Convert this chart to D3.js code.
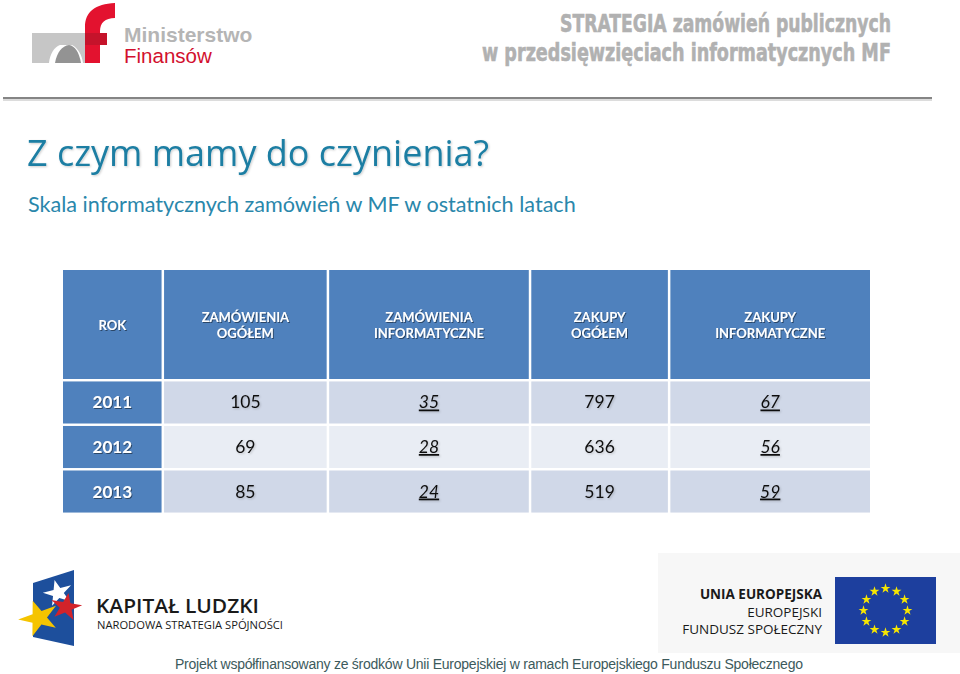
<!DOCTYPE html>
<html>
<head>
<meta charset="utf-8">
<script src="https://cdn.jsdelivr.net/npm/d3@7/dist/d3.min.js"></script>
<style>
  html, body { margin: 0; padding: 0; background: #fff; }
  svg { display: block; }
</style>
</head>
<body>
<div id="slide"></div>
<script>
(function () {
  'use strict';

  // table data
  var years = ['2011', '2012', '2013'];
  var headers = [
    ['ROK'],
    ['ZAMÓWIENIA', 'OGÓŁEM'],
    ['ZAMÓWIENIA', 'INFORMATYCZNE'],
    ['ZAKUPY', 'OGÓŁEM'],
    ['ZAKUPY', 'INFORMATYCZNE']
  ];
  var zamowieniaOgolem = [105, 69, 85];
  var zamowieniaInformatyczne = [35, 28, 24];
  var zakupyOgolem = [797, 636, 519];
  var zakupyInformatyczne = [67, 56, 59];

  var series = [
    {values: zamowieniaOgolem, italic: false},
    {values: zamowieniaInformatyczne, italic: true},
    {values: zakupyOgolem, italic: false},
    {values: zakupyInformatyczne, italic: true}
  ];

  var width = 960,
    height = 674,
    colWidths = [101, 165, 202, 139, 202],
    gap = 2.5;

  var svg = d3.select('#slide')
    .append('svg')
    .attr('width', width)
    .attr('height', height);

  var defs = svg.append('defs');
  var shadow = defs.append('filter').attr('id', 'shadow')
    .attr('x', '-10%').attr('y', '-20%').attr('width', '130%').attr('height', '150%');
  shadow.append('feDropShadow')
    .attr('dx', 1).attr('dy', 1).attr('stdDeviation', 0.6)
    .attr('flood-color', '#000').attr('flood-opacity', 0.45);
  var soft = defs.append('filter').attr('id', 'soft')
    .attr('x', '-10%').attr('y', '-20%').attr('width', '130%').attr('height', '150%');
  soft.append('feDropShadow')
    .attr('dx', 1).attr('dy', 1).attr('stdDeviation', 0.8)
    .attr('flood-color', '#000').attr('flood-opacity', 0.2);

  svg.append('rect').attr('width', width).attr('height', height).attr('fill', '#fff');

  // ---- header: MF logo ----
  var logo = svg.append('g');
  logo.append('path')
    .attr('d', 'M32,33 H107 V45 H60 C54,47 50,54 49,63 H32 Z')
    .attr('fill', '#c6c6c6');
  logo.append('path')
    .attr('d', 'M72,45 C78,48 82,55 83,63 H86 V45 Z')
    .attr('fill', '#c6c6c6');
  logo.append('path')
    .attr('d', 'M55,63 C57,52 62,46 69,45 C75,46 79,52 81,63 Z')
    .attr('fill', '#939393');
  logo.append('path')
    .attr('d', 'M85,63 V27 C85,12 95,4 115,3 V18 C105,18 100,23 100,31 V63 Z')
    .attr('fill', '#e3122f');
  logo.append('rect')
    .attr('x', 85).attr('y', 33).attr('width', 22).attr('height', 12)
    .attr('fill', '#c5132b');

  svg.append('text')
    .attr('x', 124).attr('y', 42)
    .attr('font-family', 'Liberation Sans, Arial, sans-serif')
    .attr('font-size', 21).attr('font-weight', 'bold')
    .attr('fill', '#b5b5b5')
    .text('Ministerstwo');
  svg.append('text')
    .attr('x', 124).attr('y', 63)
    .attr('font-family', 'Liberation Sans, Arial, sans-serif')
    .attr('font-size', 20.5)
    .attr('fill', '#d2102e')
    .text('Finansów');

  // top right heading (condensed by scaling to the measured width)
  var heading = [
    {text: 'STRATEGIA zamówień publicznych', y: 32, len: 331},
    {text: 'w przedsięwzięciach informatycznych MF', y: 61, len: 409}
  ];
  svg.selectAll('.heading')
    .data(heading)
    .enter()
    .append('text')
    .attr('class', 'heading')
    .attr('x', 0)
    .attr('y', 0)
    .attr('font-family', 'DejaVu Sans Condensed, Liberation Sans Narrow, sans-serif')
    .attr('font-size', 25).attr('font-weight', 'bold')
    .attr('fill', '#b1b1b1')
    .attr('stroke', '#b1b1b1').attr('stroke-width', 0.6)
    .text(function (d) { return d.text; })
    .attr('transform', function (d) {
      var natural = this.getComputedTextLength();
      var sx = d.len / natural;
      return 'translate(' + (891 - d.len) + ',' + d.y + ') scale(' + sx + ',1)';
    });

  // rule
  svg.append('line')
    .attr('x1', 3).attr('x2', 932).attr('y1', 100).attr('y2', 100)
    .attr('stroke', '#dcdcdc').attr('stroke-width', 2);
  svg.append('line')
    .attr('x1', 3).attr('x2', 932).attr('y1', 98).attr('y2', 98)
    .attr('stroke', '#858585').attr('stroke-width', 2.2);

  // titles
  svg.append('text')
    .attr('x', 27).attr('y', 166)
    .attr('font-family', 'Open Sans, sans-serif')
    .attr('font-size', 36)
    .attr('fill', '#1c7ea3')
    .attr('filter', 'url(#soft)')
    .text('Z czym mamy do czynienia?');
  svg.append('text')
    .attr('x', 28).attr('y', 212)
    .attr('font-family', 'Lato, sans-serif')
    .attr('font-size', 21.6)
    .attr('fill', '#2a87ab')
    .text('Skala informatycznych zamówień w MF w ostatnich latach');

  // ---- table ----
  var cum = [0];
  colWidths.forEach(function (w, i) { cum.push(cum[i] + w); });
  var x = d3.scaleLinear().domain([0, cum[cum.length - 1]]).range([63, 872.5]);
  var colX = function (i) { return x(cum[i]); };
  var colW = function (i) { return x(cum[i + 1]) - x(cum[i]) - gap; };

  var y = d3.scaleBand()
    .domain(years)
    .range([381, 513])
    .paddingInner(0.055)
    .paddingOuter(0.01);

  var headTop = 270, headBottom = 379;

  var head = svg.append('g').attr('class', 'head');
  var headCell = head.selectAll('g')
    .data(headers)
    .enter()
    .append('g')
    .attr('transform', function (d, i) { return 'translate(' + colX(i) + ',' + headTop + ')'; });
  headCell.append('rect')
    .attr('width', function (d, i) { return colW(i); })
    .attr('height', headBottom - headTop)
    .attr('fill', '#4f81bd');
  headCell.each(function (d, i) {
    var g = d3.select(this);
    var cy = (headBottom - headTop) / 2;
    d.forEach(function (line, j) {
      g.append('text')
        .attr('x', colW(i) / 2)
        .attr('y', cy + 5 + (j - (d.length - 1) / 2) * 16)
        .attr('text-anchor', 'middle')
        .attr('font-family', 'Lato, sans-serif')
        .attr('font-size', 13).attr('font-weight', 'bold')
        .attr('fill', '#fff')
        .attr('filter', 'url(#shadow)')
        .text(line);
    });
  });

  var rows = svg.selectAll('.row')
    .data(years)
    .enter()
    .append('g')
    .attr('class', 'row')
    .attr('transform', function (d) { return 'translate(0,' + y(d) + ')'; });

  rows.append('rect')
    .attr('x', colX(0))
    .attr('width', colW(0))
    .attr('height', y.bandwidth())
    .attr('fill', '#4f81bd');
  rows.append('text')
    .attr('x', colX(0) + colW(0) / 2)
    .attr('y', y.bandwidth() / 2 + 6)
    .attr('text-anchor', 'middle')
    .attr('font-family', 'Lato, sans-serif')
    .attr('font-size', 17).attr('font-weight', 'bold')
    .attr('fill', '#fff')
    .attr('filter', 'url(#shadow)')
    .text(function (d) { return d; });

  rows.each(function (yr, r) {
    var g = d3.select(this);
    series.forEach(function (s, c) {
      var ci = c + 1;
      g.append('rect')
        .attr('x', colX(ci))
        .attr('width', colW(ci))
        .attr('height', y.bandwidth())
        .attr('fill', r % 2 === 0 ? '#d0d8e8' : '#e9edf4');
      g.append('text')
        .attr('x', colX(ci) + colW(ci) / 2)
        .attr('y', y.bandwidth() / 2 + 6)
        .attr('text-anchor', 'middle')
        .attr('font-family', 'Lato, sans-serif')
        .attr('font-size', 17.5)
        .attr('font-style', s.italic ? 'italic' : 'normal')
        .attr('text-decoration', s.italic ? 'underline' : 'none')
        .attr('fill', '#111')
        .attr('filter', 'url(#soft)')
        .text(s.values[r]);
    });
  });

  // ---- footer: Kapitał Ludzki ----
  var kl = svg.append('g');
  kl.append('path')
    .attr('d', 'M33,583 L74,570 L74,646 L33,637 Z')
    .attr('fill', '#1d4f9c');
  var star = d3.symbol().type(d3.symbolStar);
  var klStars = [
    {x: 58, y: 593, size: 200, rot: -15, fill: '#ffffff'},
    {x: 66, y: 607, size: 230, rot: 10, fill: '#d2232a'},
    {x: 39, y: 618, size: 380, rot: -20, fill: '#f5c400'}
  ];
  kl.selectAll('path.star')
    .data(klStars)
    .enter()
    .append('path')
    .attr('class', 'star')
    .attr('d', function (d) { return star.size(d.size)(); })
    .attr('transform', function (d) { return 'translate(' + d.x + ',' + d.y + ') rotate(' + d.rot + ') scale(1.15,1)'; })
    .attr('fill', function (d) { return d.fill; });

  svg.append('text')
    .attr('x', 96).attr('y', 613)
    .attr('textLength', 163).attr('lengthAdjust', 'spacingAndGlyphs')
    .attr('font-family', 'Open Sans, sans-serif')
    .attr('font-size', 20).attr('font-weight', 600)
    .attr('fill', '#1a1a1a')
    .text('KAPITAŁ LUDZKI');
  svg.append('text')
    .attr('x', 97).attr('y', 629)
    .attr('textLength', 186).attr('lengthAdjust', 'spacingAndGlyphs')
    .attr('font-family', 'Open Sans, sans-serif')
    .attr('font-size', 10.5)
    .attr('fill', '#1a1a1a')
    .text('NARODOWA STRATEGIA SPÓJNOŚCI');

  // EU block
  svg.append('rect')
    .attr('x', 658).attr('y', 553).attr('width', 302).attr('height', 100)
    .attr('fill', '#f7f7f7');
  var euText = [
    {text: 'UNIA EUROPEJSKA', y: 599, weight: 'bold'},
    {text: 'EUROPEJSKI', y: 617, weight: 'normal'},
    {text: 'FUNDUSZ SPOŁECZNY', y: 634, weight: 'normal'}
  ];
  svg.selectAll('.eu')
    .data(euText)
    .enter()
    .append('text')
    .attr('class', 'eu')
    .attr('x', 822)
    .attr('y', function (d) { return d.y; })
    .attr('text-anchor', 'end')
    .attr('font-family', 'Open Sans, sans-serif')
    .attr('font-size', 13.5)
    .attr('font-weight', function (d) { return d.weight; })
    .attr('fill', '#1a1a1a')
    .text(function (d) { return d.text; });

  svg.append('rect')
    .attr('x', 835).attr('y', 577).attr('width', 101).attr('height', 67)
    .attr('fill', '#1d3f9e');
  var euStars = d3.range(12);
  svg.selectAll('.eustar')
    .data(euStars)
    .enter()
    .append('path')
    .attr('class', 'eustar')
    .attr('d', star.size(30)())
    .attr('transform', function (d) {
      var a = d / 12 * 2 * Math.PI;
      return 'translate(' + (885.5 + 22 * Math.sin(a)) + ',' + (610.5 - 22 * Math.cos(a)) + ')';
    })
    .attr('fill', '#f7e600');

  svg.append('text')
    .attr('x', 175).attr('y', 669)
    .attr('textLength', 628).attr('lengthAdjust', 'spacing')
    .attr('font-family', 'Liberation Sans, Arial, sans-serif')
    .attr('font-size', 14)
    .attr('fill', '#3c5a5c')
    .text('Projekt współfinansowany ze środków Unii Europejskiej w ramach Europejskiego Funduszu Społecznego');
}());
</script>
</body>
</html>
